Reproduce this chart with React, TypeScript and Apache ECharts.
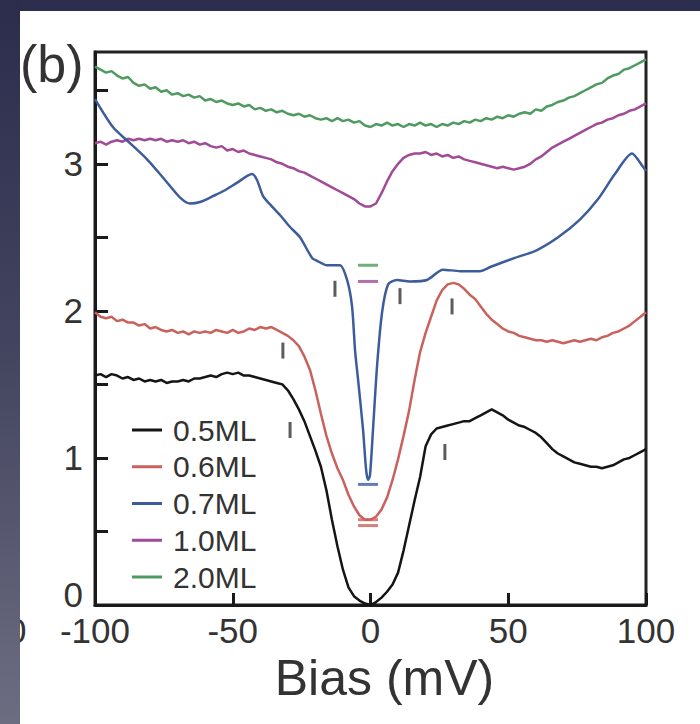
import React, { useEffect, useRef } from "react";
import * as echarts from "echarts";

const seriesNames = ["0.5ML", "0.6ML", "0.7ML", "1.0ML", "2.0ML"];
const seriesColors = ["#151515", "#c9615c", "#3d5c9c", "#a14a98", "#4f9a60"];
const xTickValues = [-100, -50, 0, 50, 100];
const yTickLabels = [0, 1, 2, 3];

const ml05 = [
  [-100, 1.56], [-98, 1.57], [-96, 1.55], [-94, 1.57], [-92, 1.56], [-90, 1.54], [-88, 1.55], [-86, 1.53],
  [-84, 1.54], [-82, 1.52], [-80, 1.53], [-78, 1.52], [-76, 1.53], [-74, 1.51], [-72, 1.52], [-70, 1.52],
  [-68, 1.53], [-66, 1.52], [-64, 1.54], [-62, 1.54], [-60, 1.55], [-58, 1.56], [-56, 1.55], [-54, 1.57],
  [-52, 1.58], [-50, 1.57], [-48, 1.58], [-46, 1.56], [-44, 1.56], [-42, 1.55], [-40, 1.54], [-38, 1.53],
  [-36, 1.52], [-34, 1.51], [-32, 1.5], [-30, 1.46], [-28, 1.4], [-26, 1.33], [-24, 1.25], [-22, 1.15],
  [-20, 1.05], [-18, 0.94], [-16, 0.78], [-14, 0.58], [-12, 0.4], [-10, 0.24], [-8, 0.12], [-6, 0.06],
  [-4, 0.03], [-2, 0.01], [0, 0.0], [2, 0.02], [4, 0.05], [6, 0.09], [8, 0.14], [10, 0.22], [12, 0.37],
  [14, 0.54], [16, 0.71], [18, 0.87], [20, 1.08], [22, 1.16], [24, 1.2], [26, 1.21], [28, 1.22], [30, 1.23],
  [32, 1.24], [34, 1.25], [36, 1.25], [38, 1.27], [40, 1.29], [42, 1.31], [44, 1.33], [46, 1.31], [48, 1.29],
  [50, 1.26], [52, 1.24], [54, 1.22], [56, 1.21], [58, 1.19], [60, 1.17], [62, 1.14], [64, 1.1], [66, 1.06],
  [68, 1.03], [70, 1.01], [72, 0.99], [74, 0.97], [76, 0.96], [78, 0.95], [80, 0.94], [82, 0.94], [84, 0.93],
  [86, 0.94], [88, 0.95], [90, 0.97], [92, 0.99], [94, 1.0], [96, 1.02], [98, 1.04], [100, 1.06],
];

const ml06 = [
  [-100, 1.99], [-98, 1.96], [-96, 1.95], [-94, 1.96], [-92, 1.93], [-90, 1.94], [-88, 1.92], [-86, 1.92],
  [-84, 1.9], [-82, 1.91], [-80, 1.88], [-78, 1.89], [-76, 1.87], [-74, 1.86], [-72, 1.87], [-70, 1.85],
  [-68, 1.86], [-66, 1.84], [-64, 1.86], [-62, 1.85], [-60, 1.86], [-58, 1.85], [-56, 1.87], [-54, 1.86],
  [-52, 1.85], [-50, 1.87], [-48, 1.85], [-46, 1.86], [-44, 1.88], [-42, 1.87], [-40, 1.89], [-38, 1.88],
  [-36, 1.89], [-34, 1.87], [-32, 1.85], [-30, 1.83], [-28, 1.8], [-26, 1.76], [-24, 1.69], [-22, 1.6],
  [-20, 1.46], [-18, 1.3], [-16, 1.15], [-14, 1.03], [-12, 0.93], [-10, 0.85], [-8, 0.75], [-6, 0.67],
  [-4, 0.61], [-2, 0.58], [0, 0.58], [2, 0.6], [4, 0.65], [6, 0.73], [8, 0.85], [10, 0.99], [12, 1.15],
  [14, 1.32], [16, 1.53], [18, 1.72], [20, 1.85], [22, 1.96], [24, 2.07], [26, 2.14], [28, 2.18], [30, 2.19],
  [32, 2.18], [34, 2.15], [36, 2.11], [38, 2.08], [40, 2.03], [42, 1.98], [44, 1.94], [46, 1.91], [48, 1.88],
  [50, 1.86], [52, 1.85], [54, 1.83], [56, 1.82], [58, 1.81], [60, 1.8], [62, 1.8], [64, 1.79], [66, 1.8],
  [68, 1.79], [70, 1.78], [72, 1.79], [74, 1.8], [76, 1.79], [78, 1.8], [80, 1.81], [82, 1.8], [84, 1.82],
  [86, 1.83], [88, 1.85], [90, 1.86], [92, 1.88], [94, 1.9], [96, 1.93], [98, 1.96], [100, 1.99],
];

const ml07 = [
  [-100, 3.44], [-93.5, 3.25], [-87.3, 3.14], [-81.1, 3.03], [-74.6, 2.89], [-69.1, 2.77], [-65.5, 2.73],
  [-61.9, 2.74], [-57.2, 2.78], [-52.8, 2.82], [-48.5, 2.87], [-43, 2.93], [-41.2, 2.89], [-39, 2.78],
  [-35.8, 2.71], [-32.8, 2.65], [-29.2, 2.57], [-25.6, 2.5], [-21.2, 2.36], [-19.4, 2.34], [-15.8, 2.31],
  [-11.1, 2.31], [-8.5, 2.21], [-6.7, 2.03], [-5.6, 1.73], [-4.5, 1.53], [-2.7, 1.19], [-1.6, 0.92],
  [-0.9, 0.85], [-0.2, 0.88], [0.9, 1.19], [2.4, 1.63], [4.2, 1.99], [6.4, 2.18], [9.6, 2.21], [14.3, 2.2],
  [20.5, 2.21], [26.3, 2.28], [32.5, 2.27], [39.7, 2.27], [43.7, 2.3], [52.4, 2.36], [60.1, 2.41],
  [68.1, 2.5], [76, 2.62], [82.6, 2.76], [88.7, 2.93], [94.9, 3.07], [98.9, 2.98], [100, 2.95],
];

const ml10 = [
  [-100, 3.14], [-98, 3.15], [-96, 3.13], [-94, 3.15], [-92, 3.16], [-90, 3.15], [-88, 3.17], [-86, 3.16],
  [-84, 3.17], [-82, 3.16], [-80, 3.17], [-78, 3.16], [-76, 3.17], [-74, 3.15], [-72, 3.16], [-70, 3.15],
  [-68, 3.16], [-66, 3.14], [-64, 3.15], [-62, 3.13], [-60, 3.14], [-58, 3.12], [-56, 3.11], [-54, 3.12],
  [-52, 3.09], [-50, 3.1], [-48, 3.08], [-46, 3.09], [-44, 3.07], [-42, 3.06], [-40, 3.05], [-38, 3.04],
  [-36, 3.03], [-34, 3.01], [-32, 3.0], [-30, 2.98], [-28, 2.97], [-26, 2.95], [-24, 2.94], [-22, 2.92],
  [-20, 2.9], [-18, 2.88], [-16, 2.86], [-14, 2.84], [-12, 2.82], [-10, 2.8], [-8, 2.78], [-6, 2.76],
  [-4, 2.73], [-2, 2.71], [0, 2.71], [2, 2.73], [4, 2.8], [6, 2.88], [8, 2.95], [10, 3.0], [12, 3.04],
  [14, 3.06], [16, 3.07], [18, 3.07], [20, 3.08], [22, 3.06], [24, 3.07], [26, 3.05], [28, 3.06], [30, 3.04],
  [32, 3.05], [34, 3.03], [36, 3.02], [38, 3.01], [40, 3.0], [42, 2.99], [44, 2.98], [46, 2.97], [48, 2.98],
  [50, 2.97], [52, 2.96], [54, 2.97], [56, 2.98], [58, 3.0], [60, 3.03], [62, 3.05], [64, 3.08], [66, 3.11],
  [68, 3.13], [70, 3.15], [72, 3.17], [74, 3.19], [76, 3.21], [78, 3.23], [80, 3.25], [82, 3.27], [84, 3.28],
  [86, 3.3], [88, 3.31], [90, 3.33], [92, 3.34], [94, 3.36], [96, 3.37], [98, 3.39], [100, 3.41],
];

const ml20 = [
  [-100, 3.66], [-98, 3.64], [-96, 3.62], [-94, 3.63], [-92, 3.6], [-90, 3.58], [-88, 3.59], [-86, 3.55],
  [-84, 3.53], [-82, 3.54], [-80, 3.51], [-78, 3.52], [-76, 3.49], [-74, 3.5], [-72, 3.47], [-70, 3.48],
  [-68, 3.46], [-66, 3.47], [-64, 3.45], [-62, 3.46], [-60, 3.43], [-58, 3.44], [-56, 3.42], [-54, 3.43],
  [-52, 3.41], [-50, 3.4], [-48, 3.41], [-46, 3.39], [-44, 3.4], [-42, 3.37], [-40, 3.38], [-38, 3.36],
  [-36, 3.37], [-34, 3.35], [-32, 3.36], [-30, 3.34], [-28, 3.33], [-26, 3.34], [-24, 3.32], [-22, 3.33],
  [-20, 3.31], [-18, 3.3], [-16, 3.31], [-14, 3.29], [-12, 3.31], [-10, 3.29], [-8, 3.3], [-6, 3.28],
  [-4, 3.29], [-2, 3.26], [0, 3.25], [2, 3.27], [4, 3.26], [6, 3.28], [8, 3.26], [10, 3.27], [12, 3.25],
  [14, 3.27], [16, 3.26], [18, 3.28], [20, 3.26], [22, 3.27], [24, 3.25], [26, 3.27], [28, 3.26], [30, 3.28],
  [32, 3.27], [34, 3.29], [36, 3.28], [38, 3.3], [40, 3.29], [42, 3.31], [44, 3.3], [46, 3.32], [48, 3.31],
  [50, 3.33], [52, 3.32], [54, 3.34], [56, 3.35], [58, 3.34], [60, 3.37], [62, 3.36], [64, 3.39], [66, 3.4],
  [68, 3.42], [70, 3.43], [72, 3.45], [74, 3.46], [76, 3.48], [78, 3.5], [80, 3.52], [82, 3.54], [84, 3.55],
  [86, 3.58], [88, 3.6], [90, 3.61], [92, 3.64], [94, 3.65], [96, 3.67], [98, 3.69], [100, 3.71],
];

// gap-edge markers (short vertical bars)
const gapMarks = [
  [-12.9, 2.15], [10.7, 2.1], [29.6, 2.03], [-31.8, 1.73], [-29.2, 1.19], [27.0, 1.04],
];
// zero-level dashes at the centre, one list per curve
const dash06 = [[-0.9, 0.58], [-0.9, 0.54]];
const dash07 = [[-0.9, 0.82]];
const dash10 = [[-0.9, 2.2]];
const dash20 = [[-0.9, 2.31]];

const curves = [ml05, ml06, ml07, ml10, ml20];
const dashes = [null, dash06, dash07, dash10, dash20];

export default function App() {
  const ref = useRef<HTMLDivElement>(null);
  useEffect(() => {
    document.body.style.margin = "0";
    if (!ref.current) return;
    const chart = echarts.init(ref.current, null, { renderer: "svg" });
    const font = "'Liberation Sans', Arial, sans-serif";
    const lineSeries = curves.map((d, i) => ({
      name: seriesNames[i],
      type: "line",
      data: d,
      showSymbol: false,
      smooth: i === 2 ? 0.25 : false,
      color: seriesColors[i],
      lineStyle: { width: 2.5, color: seriesColors[i] },
      z: 10 - i,
    }));
    const dashSeries = dashes
      .map((d, i) =>
        d
          ? {
              type: "scatter",
              data: d,
              symbol: "rect",
              symbolSize: [20, 3],
              itemStyle: { color: seriesColors[i] },
              z: 12,
              silent: true,
            }
          : null
      )
      .filter(Boolean);
    chart.setOption({
      animation: false,
      backgroundColor: "#ffffff",
      textStyle: { fontFamily: font },
      grid: {
        left: 95,
        right: 54,
        top: 52,
        bottom: 119,
        show: true,
        borderColor: "#222",
        borderWidth: 3,
        containLabel: false,
      },
      legend: {
        data: seriesNames,
        orient: "vertical",
        left: 132,
        top: 415,
        padding: 0,
        itemGap: 6.75,
        itemWidth: 30,
        itemHeight: 3,
        icon: "rect",
        textStyle: {
          fontFamily: font,
          fontSize: 30,
          lineHeight: 30,
          color: "#333",
          padding: [0, 0, 0, 6],
        },
      },
      xAxis: {
        type: "value",
        min: xTickValues[0],
        max: xTickValues[xTickValues.length - 1],
        interval: 50,
        name: "Bias (mV)",
        nameLocation: "middle",
        nameGap: 26,
        nameTextStyle: { fontFamily: font, fontSize: 50, color: "#333", padding: [0, 0, 0, 28] },
        axisLine: { show: true, onZero: false, lineStyle: { color: "#1a1a1a", width: 3 } },
        axisTick: { show: true, inside: true, length: 12, lineStyle: { color: "#1a1a1a", width: 3 } },
        axisLabel: { fontFamily: font, fontSize: 35, color: "#333", margin: 8 },
        splitLine: { show: false },
      },
      yAxis: {
        type: "value",
        min: yTickLabels[0],
        max: 3.76,
        interval: 0.5,
        axisLine: { show: true, onZero: false, lineStyle: { color: "#1a1a1a", width: 3 } },
        axisTick: { show: true, inside: true, length: 13, lineStyle: { color: "#1a1a1a", width: 3 } },
        axisLabel: {
          fontFamily: font,
          fontSize: 35,
          lineHeight: 22,
          color: "#333",
          margin: 12,
          showMaxLabel: false,
          verticalAlignMinLabel: "bottom",
          formatter: (v: number) => (yTickLabels.includes(v) ? String(v) : ""),
        },
        splitLine: { show: false },
      },
      series: [
        ...lineSeries,
        ...dashSeries,
        {
          type: "scatter",
          data: gapMarks,
          symbol: "rect",
          symbolSize: [3, 16],
          itemStyle: { color: "#333" },
          z: 12,
          silent: true,
        },
      ],
      graphic: [
        {
          type: "text",
          left: 20,
          top: 38,
          style: { text: "(b)", font: `52px ${font}`, fill: "#333" },
          z: 20,
        },
        {
          type: "text",
          x: 7,
          y: 613,
          style: { text: "0", font: `35px ${font}`, fill: "#333" },
          z: 20,
        },
        {
          type: "rect",
          shape: { x: 0, y: 0, width: 700, height: 11 },
          style: { fill: "#2d2e4e" },
          z: 30,
        },
        {
          type: "rect",
          shape: { x: 0, y: 0, width: 20, height: 724 },
          style: {
            fill: {
              type: "linear",
              x: 0,
              y: 0,
              x2: 0,
              y2: 1,
              colorStops: [
                { offset: 0, color: "#2c2d4d" },
                { offset: 0.5, color: "#44455f" },
                { offset: 1, color: "#6d6d82" },
              ],
            },
          },
          z: 30,
        },
      ],
    });
    return () => chart.dispose();
  }, []);
  return <div ref={ref} style={{ width: 700, height: 724 }} />;
}
